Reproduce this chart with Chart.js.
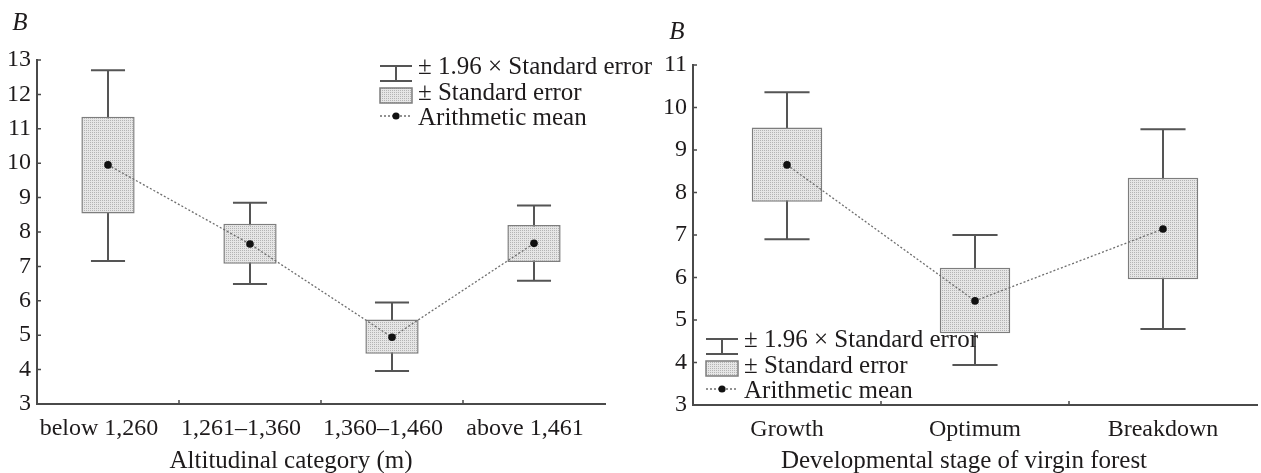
<!DOCTYPE html>
<html>
<head>
<meta charset="utf-8">
<script src="https://cdn.jsdelivr.net/npm/chart.js@4"></script>
<style>
  body { margin: 0; background: #fff; }
  #wrap { position: relative; width: 1261px; height: 473px; overflow: hidden; }
  .pane { position: absolute; top: 0; height: 473px; }
</style>
</head>
<body>
<div id="wrap">
  <div class="pane" style="left:0;width:680px"><canvas id="left"></canvas></div>
  <div class="pane" style="left:630px;width:631px"><canvas id="right"></canvas></div>
</div>
<script>
// left panel: altitude
const leftCategories = ['below 1,260', '1,261–1,360', '1,360–1,460', 'above 1,461'];
const leftMean   = [9.95, 7.65, 4.94, 7.67];
const leftSeLow  = [8.54, 7.08, 4.46, 7.13];
const leftSeHigh = [11.35, 8.24, 5.46, 8.20];
const leftCiLow  = [7.16, 6.49, 3.96, 6.58];
const leftCiHigh = [12.70, 8.85, 5.95, 8.77];
const leftYRange = [3, 13];

// right panel: developmental stage
const rightCategories = ['Growth', 'Optimum', 'Breakdown'];
const rightMean   = [8.65, 5.45, 7.14];
const rightSeLow  = [7.78, 4.69, 5.96];
const rightSeHigh = [9.53, 6.23, 8.35];
const rightCiLow  = [6.90, 3.94, 4.79];
const rightCiHigh = [10.36, 7.00, 9.49];
const rightYRange = [3, 11];

const legendLabels = ['± 1.96 × Standard error', '± Standard error', 'Arithmetic mean'];

const FONT = '"Liberation Serif", "Times New Roman", serif';
const TEXT = '#1e1b1c';
const AXIS = '#4a4a4a';
const WHISK = '#555';
const BOXLINE = '#7d7d7d';

// fine dotted grey fill like the print
function stipple() {
  const c = document.createElement('canvas');
  c.width = 2; c.height = 2;
  const g = c.getContext('2d');
  g.fillStyle = '#e6e6e6';
  g.fillRect(0, 0, 2, 2);
  g.fillStyle = '#b4b4b4';
  g.fillRect(0, 0, 1, 1);
  return g.createPattern(c, 'repeat');
}
const fill = stipple();

const whiskerPlugin = {
  id: 'whiskers',
  beforeDatasetsDraw(chart, args, o) {
    const ctx = chart.ctx, xs = chart.scales.x, ys = chart.scales.y;
    const step = xs.getPixelForValue(1) - xs.getPixelForValue(0);
    const half = step * 0.12;
    ctx.save();
    ctx.strokeStyle = WHISK;
    ctx.lineWidth = 2;
    o.low.forEach((lo, i) => {
      const x = Math.round(xs.getPixelForValue(i));
      const yl = ys.getPixelForValue(lo), yh = ys.getPixelForValue(o.high[i]);
      ctx.beginPath();
      ctx.moveTo(x, yh); ctx.lineTo(x, yl);
      ctx.moveTo(x - half, yh); ctx.lineTo(x + half, yh);
      ctx.moveTo(x - half, yl); ctx.lineTo(x + half, yl);
      ctx.stroke();
    });
    ctx.restore();
  }
};

const extrasPlugin = {
  id: 'extras',
  afterDraw(chart, args, o) {
    const ctx = chart.ctx, a = chart.chartArea;
    const xs = chart.scales.x, ys = chart.scales.y;
    ctx.save();
    // inward ticks
    ctx.strokeStyle = AXIS;
    ctx.lineWidth = 1.5;
    ctx.beginPath();
    ys.ticks.forEach(t => {
      const y = ys.getPixelForValue(t.value);
      if (Math.abs(y - a.bottom) < 2) return;
      ctx.moveTo(a.left, y); ctx.lineTo(a.left + 4, y);
    });
    for (let i = 0; i < xs.ticks.length - 1; i++) {
      const x = (xs.getPixelForValue(i) + xs.getPixelForValue(i + 1)) / 2;
      ctx.moveTo(x, a.bottom); ctx.lineTo(x, a.bottom - 4);
    }
    ctx.stroke();

    // titles
    ctx.fillStyle = TEXT;
    ctx.textAlign = 'center';
    ctx.textBaseline = 'middle';
    ctx.font = 'italic 25px ' + FONT;
    ctx.fillText('B', o.bX, o.bY);
    ctx.font = '25px ' + FONT;
    ctx.fillText(o.xTitle, o.xTitleX, o.xTitleY);

    // legend
    const x0 = o.legX, T = o.legTop, w = 32;
    ctx.strokeStyle = WHISK;
    ctx.lineWidth = 2;
    ctx.beginPath();
    ctx.moveTo(x0, T); ctx.lineTo(x0 + w, T);
    ctx.moveTo(x0, T + 15); ctx.lineTo(x0 + w, T + 15);
    ctx.moveTo(x0 + w / 2, T); ctx.lineTo(x0 + w / 2, T + 15);
    ctx.stroke();
    ctx.fillStyle = fill;
    ctx.fillRect(x0, T + 22, w, 15);
    ctx.strokeStyle = BOXLINE;
    ctx.lineWidth = 1.5;
    ctx.strokeRect(x0, T + 22, w, 15);
    ctx.strokeStyle = '#6e6e6e';
    ctx.lineWidth = 1.3;
    ctx.setLineDash([2, 2]);
    ctx.beginPath();
    ctx.moveTo(x0, T + 50); ctx.lineTo(x0 + w, T + 50);
    ctx.stroke();
    ctx.setLineDash([]);
    ctx.fillStyle = '#111';
    ctx.beginPath();
    ctx.arc(x0 + w / 2, T + 50, 3.6, 0, Math.PI * 2);
    ctx.fill();

    ctx.fillStyle = TEXT;
    ctx.textAlign = 'left';
    ctx.font = '25px ' + FONT;
    ctx.fillText(legendLabels[0], x0 + w + 6, T + 1);
    ctx.fillText(legendLabels[1], x0 + w + 6, T + 27);
    ctx.fillText(legendLabels[2], x0 + w + 6, T + 52);
    ctx.restore();
  }
};

function makeChart(id, c) {
  const axisGrid = { color: 'rgba(0,0,0,0)', drawOnChartArea: false, drawTicks: false };
  const axisBorder = { color: AXIS, width: 2 };
  return new Chart(document.getElementById(id), {
    data: {
      labels: c.categories,
      datasets: [
        {
          type: 'line',
          data: c.mean,
          order: 0,
          borderColor: '#6e6e6e',
          borderWidth: 1.3,
          borderDash: [2, 2],
          pointRadius: 3.8,
          pointBackgroundColor: '#111',
          pointBorderWidth: 0,
          tension: 0
        },
        {
          type: 'bar',
          data: c.seLow.map((v, i) => [v, c.seHigh[i]]),
          order: 1,
          backgroundColor: fill,
          borderColor: BOXLINE,
          borderWidth: 1.5,
          borderSkipped: false,
          barPercentage: 0.375,
          categoryPercentage: 1
        }
      ]
    },
    options: {
      responsive: true,
      maintainAspectRatio: false,
      animation: false,
      layout: { padding: c.padding },
      plugins: {
        legend: { display: false },
        tooltip: { enabled: false },
        whiskers: { low: c.ciLow, high: c.ciHigh },
        extras: c.extras
      },
      scales: {
        x: {
          type: 'category',
          offset: true,
          grid: axisGrid,
          border: axisBorder,
          ticks: { font: { family: FONT, size: 24 }, color: TEXT, padding: 10, maxRotation: 0, labelOffset: c.labelShift },
          afterFit: s => { s.height = c.xHeight; }
        },
        y: {
          min: c.yRange[0],
          max: c.yRange[1],
          grid: axisGrid,
          border: axisBorder,
          ticks: { stepSize: 1, font: { family: FONT, size: 24 }, color: TEXT, padding: 6 },
          afterFit: s => { s.width = c.yWidth; }
        }
      }
    },
    plugins: [whiskerPlugin, extrasPlugin]
  });
}

makeChart('left', {
  categories: leftCategories, mean: leftMean, seLow: leftSeLow, seHigh: leftSeHigh,
  ciLow: leftCiLow, ciHigh: leftCiHigh, yRange: leftYRange,
  padding: { left: 0, right: 75, top: 60, bottom: 0 },
  xHeight: 69, yWidth: 37, labelShift: -9,
  extras: { bX: 20, bY: 23, xTitle: 'Altitudinal category (m)', xTitleX: 291, xTitleY: 461, legX: 380, legTop: 66 }
});

makeChart('right', {
  categories: rightCategories, mean: rightMean, seLow: rightSeLow, seHigh: rightSeHigh,
  ciLow: rightCiLow, ciHigh: rightCiHigh, yRange: rightYRange,
  padding: { left: 0, right: 0, top: 65, bottom: 0 },
  xHeight: 68, yWidth: 63, labelShift: 0,
  extras: { bX: 47, bY: 32, xTitle: 'Developmental stage of virgin forest', xTitleX: 334, xTitleY: 461, legX: 76, legTop: 339 }
});
</script>
</body>
</html>
